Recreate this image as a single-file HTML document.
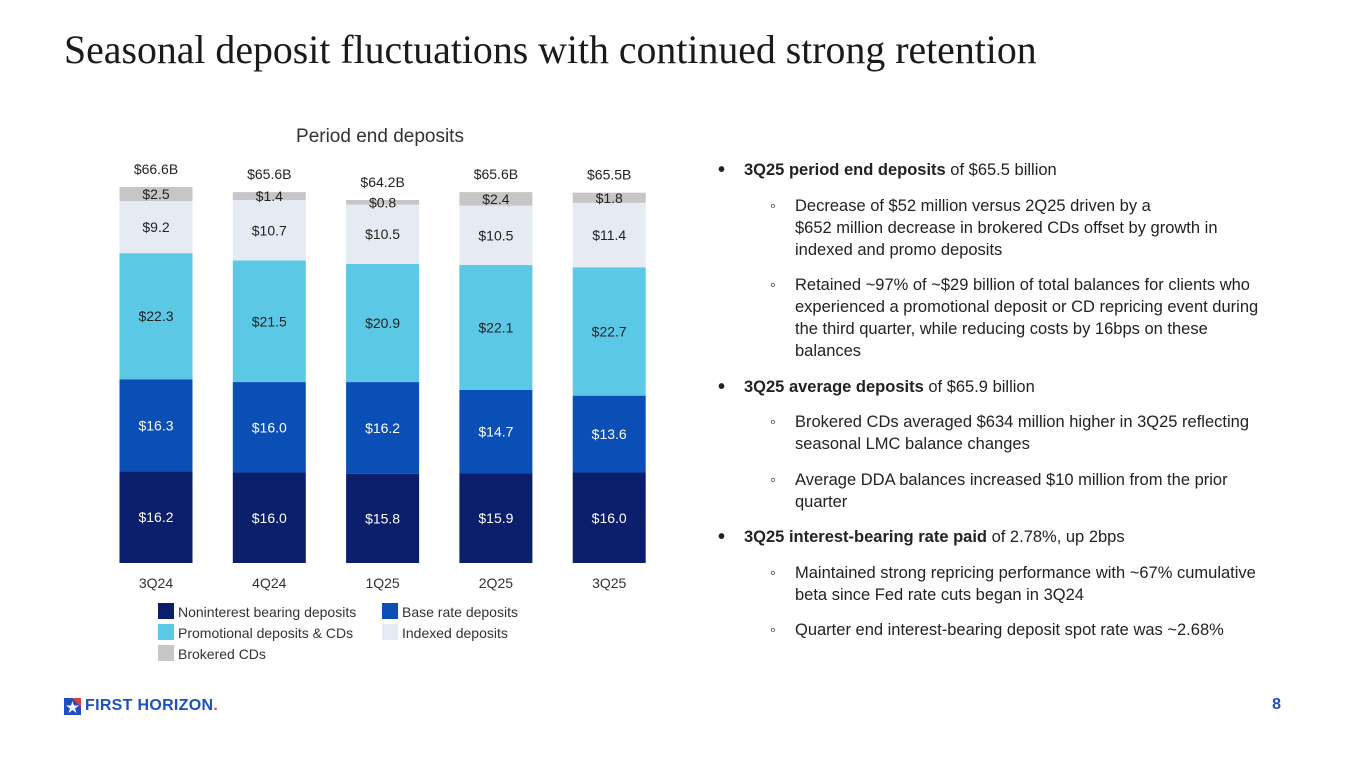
<!DOCTYPE html>
<html><head><meta charset="utf-8">
<style>
body{margin:0;width:1365px;height:768px;background:#fff;font-family:"Liberation Sans",sans-serif;position:relative;overflow:hidden}
.title{position:absolute;left:64px;top:27px;font-family:"Liberation Serif",serif;font-size:39.8px;color:#1a1a1a}
.bul{position:absolute;left:718px;top:159px;width:620px;font-size:16.5px;color:#222;line-height:22px;white-space:nowrap}
.bul p{margin:0 0 13.5px 0}
.l1{position:relative;padding-left:26px}
.l1:before{content:"•";position:absolute;left:0;font-weight:bold;font-size:20px}
.l2{position:relative;padding-left:77px}
.l2:before{content:"◦";position:absolute;left:52px}
.pg{position:absolute;right:84px;top:696px;color:#1e4fc2;font-weight:bold;font-size:16px}
</style></head><body>
<div class="title">Seasonal deposit fluctuations with continued strong retention</div>
<svg id="chart" width="700" height="680" style="position:absolute;left:0;top:0" font-family="Liberation Sans, sans-serif"></svg>
<div class="bul">
<p class="l1"><b>3Q25 period end deposits</b> of $65.5 billion</p>
<p class="l2">Decrease of $52 million versus 2Q25 driven by a<br>$652 million decrease in brokered CDs offset by growth in<br>indexed and promo deposits</p>
<p class="l2">Retained ~97% of ~$29 billion of total balances for clients who<br>experienced a promotional deposit or CD repricing event during<br>the third quarter, while reducing costs by 16bps on these<br>balances</p>
<p class="l1"><b>3Q25 average deposits</b> of $65.9 billion</p>
<p class="l2">Brokered CDs averaged $634 million higher in 3Q25 reflecting<br>seasonal LMC balance changes</p>
<p class="l2">Average DDA balances increased $10 million from the prior<br>quarter</p>
<p class="l1"><b>3Q25 interest-bearing rate paid</b> of 2.78%, up 2bps</p>
<p class="l2">Maintained strong repricing performance with ~67% cumulative<br>beta since Fed rate cuts began in 3Q24</p>
<p class="l2">Quarter end interest-bearing deposit spot rate was ~2.68%</p>
</div>
<div style="position:absolute;left:64px;top:697px;display:flex;align-items:center">
<svg width="17" height="17"><rect width="17" height="17" fill="#1e4fc2"/><polygon points="8,0 17,0 17,9" fill="#e0403a"/><polygon points="8.5,3 10,7.5 15,7.5 11,10.5 12.5,15 8.5,12 4.5,15 6,10.5 2,7.5 7,7.5" fill="#fff"/></svg>
<span style="margin-left:4px;color:#1e4fc2;font-weight:bold;font-size:16px;letter-spacing:0.3px">FIRST HORIZON</span><span style="color:#e0403a;font-weight:bold">.</span>
</div>
<div class="pg">8</div>
<script>
const categories=["3Q24","4Q24","1Q25","2Q25","3Q25"];
const nonInterest=[16.2,16.0,15.8,15.9,16.0];
const baseRate=[16.3,16.0,16.2,14.7,13.6];
const promo=[22.3,21.5,20.9,22.1,22.7];
const indexed=[9.2,10.7,10.5,10.5,11.4];
const brokered=[2.5,1.4,0.8,2.4,1.8];
const totals=["$66.6B","$65.6B","$64.2B","$65.6B","$65.5B"];
const seriesNames=["Noninterest bearing deposits","Base rate deposits","Promotional deposits & CDs","Indexed deposits","Brokered CDs"];
const series=[nonInterest,baseRate,promo,indexed,brokered];
const colors=["#0a1f6b","#0a4fb5","#5bc8e6","#e5eaf3","#c6c6c6"];
const txt=["#fff","#fff","#222","#222","#222"];
const svg=document.getElementById('chart');
const NS="http://www.w3.org/2000/svg";
const base=563, k=5.654, x0=156, step=113.3, bw=73;
const y=v=>base-v*k, xc=i=>x0+i*step;
function mk(t,a){const e=document.createElementNS(NS,t);for(const n in a)e.setAttribute(n,a[n]);svg.appendChild(e);return e;}
let t=mk('text',{x:380,y:142,'text-anchor':'middle','font-size':19,fill:'#333'});t.textContent="Period end deposits";


categories.forEach((c,i)=>{
 let cum=0;
 series.forEach((s,j)=>{
  const v=s[i];
  const r=mk('rect',{x:xc(i)-bw/2,y:y(cum+v),width:bw,height:v*k,fill:colors[j]});
  
  
  const l=mk('text',{x:xc(i),y:y(cum+v/2)+5,'text-anchor':'middle','font-size':14,fill:txt[j]});
  l.textContent="$"+v.toFixed(1);
  
  
  cum+=v;
 });
 const tl=mk('text',{x:xc(i),y:y(cum)-13,'text-anchor':'middle','font-size':14,fill:'#222'});
 tl.textContent=totals[i];
 
 
 const xl=mk('text',{x:xc(i),y:588,'text-anchor':'middle','font-size':14,fill:'#333'});
 xl.textContent=c;
 
 
});
const lp=[[158,613],[382,613],[158,634],[382,634],[158,655]];
seriesNames.forEach((n,j)=>{
 const r=mk('rect',{x:lp[j][0],y:lp[j][1]-10,width:16,height:16,fill:colors[j]});
 
 
 const l=mk('text',{x:lp[j][0]+20,y:lp[j][1]+4,'font-size':14,fill:'#333'});
 l.textContent=n;
 
 
});
</script>
</body></html>
